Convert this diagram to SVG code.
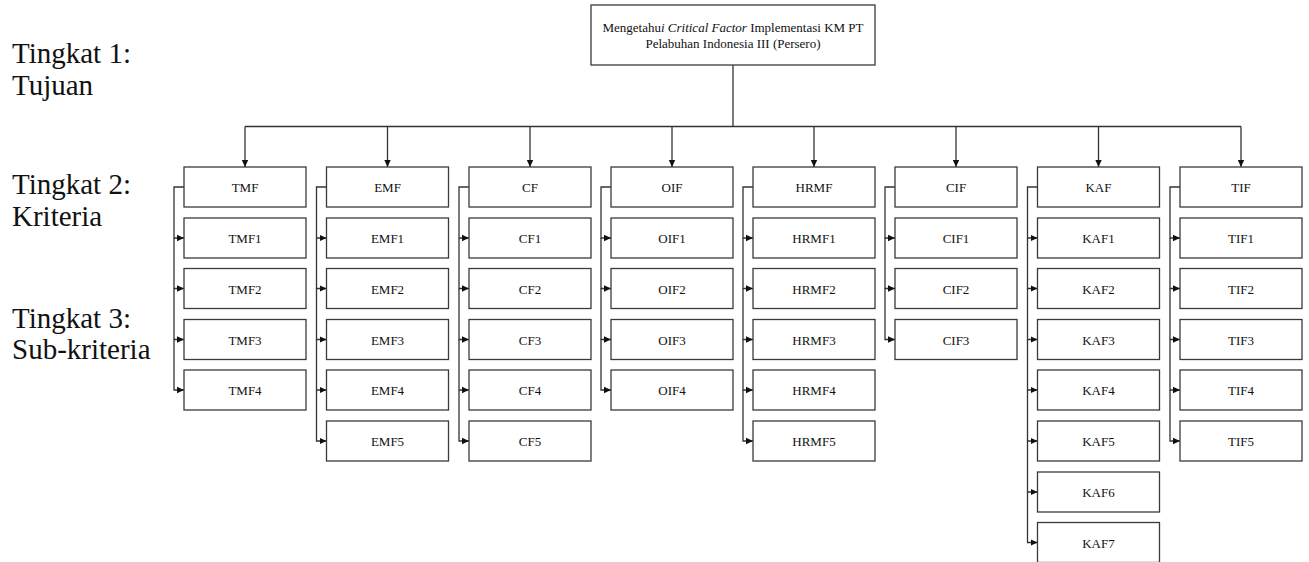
<svg xmlns="http://www.w3.org/2000/svg" width="1309" height="562" viewBox="0 0 1309 562">
  <style>
    .box { fill: #ffffff; stroke: #3a3a3a; stroke-width: 1.3; }
    .lbl { font-family: "Liberation Serif", "Times New Roman", serif; font-size: 13px; fill: #111; text-anchor: middle; }
    .lvl { font-family: "Liberation Serif", "Times New Roman", serif; font-size: 29px; fill: #111; }
    .wire { fill: none; stroke: #333; stroke-width: 1.3; }
    .arr { fill: none; stroke: #333; stroke-width: 1.3; marker-end: url(#head); }
  </style>
  <defs>
    <marker id="head" markerUnits="userSpaceOnUse" markerWidth="8" markerHeight="8" refX="7" refY="4" orient="auto">
      <path d="M0,0.8 L7,4 L0,7.2 Z" fill="#111"/>
    </marker>
  </defs>
  <rect width="1309" height="562" fill="#ffffff"/>

  <!-- level captions -->
  <g id="levels">
    <text class="lvl" x="12" y="62.5">Tingkat 1:</text>
    <text class="lvl" x="12" y="95">Tujuan</text>
    <text class="lvl" x="12" y="194">Tingkat 2:</text>
    <text class="lvl" x="12" y="226">Kriteria</text>
    <text class="lvl" x="12" y="327.5">Tingkat 3:</text>
    <text class="lvl" x="12" y="359">Sub-kriteria</text>
  </g>

  <!-- connectors -->
  <g id="connectors">
    <!-- goal to bus -->
    <path class="wire" d="M733,65 V126.5"/>
    <path class="wire" d="M245,126.5 H1241"/>
    <!-- bus to criteria -->
    <path class="arr" d="M245,126.5 V167"/>
    <path class="arr" d="M387.5,126.5 V167"/>
    <path class="arr" d="M530,126.5 V167"/>
    <path class="arr" d="M672,126.5 V167"/>
    <path class="arr" d="M814,126.5 V167"/>
    <path class="arr" d="M956,126.5 V167"/>
    <path class="arr" d="M1098.5,126.5 V167"/>
    <path class="arr" d="M1241,126.5 V167"/>

    <!-- TMF -->
    <path class="arr" d="M184,187 H174 V238 H184"/>
    <path class="arr" d="M174,238 V288.5 H184"/>
    <path class="arr" d="M174,288.5 V339.5 H184"/>
    <path class="arr" d="M174,339.5 V390 H184"/>
    <!-- EMF -->
    <path class="arr" d="M326.5,187 H316.5 V238 H326.5"/>
    <path class="arr" d="M316.5,238 V288.5 H326.5"/>
    <path class="arr" d="M316.5,288.5 V339.5 H326.5"/>
    <path class="arr" d="M316.5,339.5 V390 H326.5"/>
    <path class="arr" d="M316.5,390 V441 H326.5"/>
    <!-- CF -->
    <path class="arr" d="M469,187 H459 V238 H469"/>
    <path class="arr" d="M459,238 V288.5 H469"/>
    <path class="arr" d="M459,288.5 V339.5 H469"/>
    <path class="arr" d="M459,339.5 V390 H469"/>
    <path class="arr" d="M459,390 V441 H469"/>
    <!-- OIF -->
    <path class="arr" d="M611,187 H601 V238 H611"/>
    <path class="arr" d="M601,238 V288.5 H611"/>
    <path class="arr" d="M601,288.5 V339.5 H611"/>
    <path class="arr" d="M601,339.5 V390 H611"/>
    <!-- HRMF -->
    <path class="arr" d="M753,187 H743 V238 H753"/>
    <path class="arr" d="M743,238 V288.5 H753"/>
    <path class="arr" d="M743,288.5 V339.5 H753"/>
    <path class="arr" d="M743,339.5 V390 H753"/>
    <path class="arr" d="M743,390 V441 H753"/>
    <!-- CIF -->
    <path class="arr" d="M895,187 H885 V238 H895"/>
    <path class="arr" d="M885,238 V288.5 H895"/>
    <path class="arr" d="M885,288.5 V339.5 H895"/>
    <!-- KAF -->
    <path class="arr" d="M1037.5,187 H1027.5 V238 H1037.5"/>
    <path class="arr" d="M1027.5,238 V288.5 H1037.5"/>
    <path class="arr" d="M1027.5,288.5 V339.5 H1037.5"/>
    <path class="arr" d="M1027.5,339.5 V390 H1037.5"/>
    <path class="arr" d="M1027.5,390 V441 H1037.5"/>
    <path class="arr" d="M1027.5,441 V492 H1037.5"/>
    <path class="arr" d="M1027.5,492 V542.5 H1037.5"/>
    <!-- TIF -->
    <path class="arr" d="M1180,187 H1170 V238 H1180"/>
    <path class="arr" d="M1170,238 V288.5 H1180"/>
    <path class="arr" d="M1170,288.5 V339.5 H1180"/>
    <path class="arr" d="M1170,339.5 V390 H1180"/>
    <path class="arr" d="M1170,390 V441 H1180"/>
  </g>

  <!-- goal -->
  <g id="goal">
    <rect class="box" x="591" y="5" width="284" height="60"/>
    <text class="lbl" x="733" y="31.5">Mengetahu<tspan font-style="italic">i Critical Factor</tspan> Implementasi KM PT</text>
    <text class="lbl" x="733" y="47.5">Pelabuhan Indonesia III (Persero)</text>
  </g>

  <!-- TMF column -->
  <g id="TMF"><rect class="box" x="184" y="167" width="122" height="40"/><text class="lbl" x="245" y="192">TMF</text></g>
  <g id="TMF1"><rect class="box" x="184" y="218" width="122" height="40"/><text class="lbl" x="245" y="243">TMF1</text></g>
  <g id="TMF2"><rect class="box" x="184" y="268.5" width="122" height="40"/><text class="lbl" x="245" y="293.5">TMF2</text></g>
  <g id="TMF3"><rect class="box" x="184" y="319.5" width="122" height="40"/><text class="lbl" x="245" y="344.5">TMF3</text></g>
  <g id="TMF4"><rect class="box" x="184" y="370" width="122" height="40"/><text class="lbl" x="245" y="395">TMF4</text></g>

  <!-- EMF column -->
  <g id="EMF"><rect class="box" x="326.5" y="167" width="122" height="40"/><text class="lbl" x="387.5" y="192">EMF</text></g>
  <g id="EMF1"><rect class="box" x="326.5" y="218" width="122" height="40"/><text class="lbl" x="387.5" y="243">EMF1</text></g>
  <g id="EMF2"><rect class="box" x="326.5" y="268.5" width="122" height="40"/><text class="lbl" x="387.5" y="293.5">EMF2</text></g>
  <g id="EMF3"><rect class="box" x="326.5" y="319.5" width="122" height="40"/><text class="lbl" x="387.5" y="344.5">EMF3</text></g>
  <g id="EMF4"><rect class="box" x="326.5" y="370" width="122" height="40"/><text class="lbl" x="387.5" y="395">EMF4</text></g>
  <g id="EMF5"><rect class="box" x="326.5" y="421" width="122" height="40"/><text class="lbl" x="387.5" y="446">EMF5</text></g>

  <!-- CF column -->
  <g id="CF"><rect class="box" x="469" y="167" width="122" height="40"/><text class="lbl" x="530" y="192">CF</text></g>
  <g id="CF1"><rect class="box" x="469" y="218" width="122" height="40"/><text class="lbl" x="530" y="243">CF1</text></g>
  <g id="CF2"><rect class="box" x="469" y="268.5" width="122" height="40"/><text class="lbl" x="530" y="293.5">CF2</text></g>
  <g id="CF3"><rect class="box" x="469" y="319.5" width="122" height="40"/><text class="lbl" x="530" y="344.5">CF3</text></g>
  <g id="CF4"><rect class="box" x="469" y="370" width="122" height="40"/><text class="lbl" x="530" y="395">CF4</text></g>
  <g id="CF5"><rect class="box" x="469" y="421" width="122" height="40"/><text class="lbl" x="530" y="446">CF5</text></g>

  <!-- OIF column -->
  <g id="OIF"><rect class="box" x="611" y="167" width="122" height="40"/><text class="lbl" x="672" y="192">OIF</text></g>
  <g id="OIF1"><rect class="box" x="611" y="218" width="122" height="40"/><text class="lbl" x="672" y="243">OIF1</text></g>
  <g id="OIF2"><rect class="box" x="611" y="268.5" width="122" height="40"/><text class="lbl" x="672" y="293.5">OIF2</text></g>
  <g id="OIF3"><rect class="box" x="611" y="319.5" width="122" height="40"/><text class="lbl" x="672" y="344.5">OIF3</text></g>
  <g id="OIF4"><rect class="box" x="611" y="370" width="122" height="40"/><text class="lbl" x="672" y="395">OIF4</text></g>

  <!-- HRMF column -->
  <g id="HRMF"><rect class="box" x="753" y="167" width="122" height="40"/><text class="lbl" x="814" y="192">HRMF</text></g>
  <g id="HRMF1"><rect class="box" x="753" y="218" width="122" height="40"/><text class="lbl" x="814" y="243">HRMF1</text></g>
  <g id="HRMF2"><rect class="box" x="753" y="268.5" width="122" height="40"/><text class="lbl" x="814" y="293.5">HRMF2</text></g>
  <g id="HRMF3"><rect class="box" x="753" y="319.5" width="122" height="40"/><text class="lbl" x="814" y="344.5">HRMF3</text></g>
  <g id="HRMF4"><rect class="box" x="753" y="370" width="122" height="40"/><text class="lbl" x="814" y="395">HRMF4</text></g>
  <g id="HRMF5"><rect class="box" x="753" y="421" width="122" height="40"/><text class="lbl" x="814" y="446">HRMF5</text></g>

  <!-- CIF column -->
  <g id="CIF"><rect class="box" x="895" y="167" width="122" height="40"/><text class="lbl" x="956" y="192">CIF</text></g>
  <g id="CIF1"><rect class="box" x="895" y="218" width="122" height="40"/><text class="lbl" x="956" y="243">CIF1</text></g>
  <g id="CIF2"><rect class="box" x="895" y="268.5" width="122" height="40"/><text class="lbl" x="956" y="293.5">CIF2</text></g>
  <g id="CIF3"><rect class="box" x="895" y="319.5" width="122" height="40"/><text class="lbl" x="956" y="344.5">CIF3</text></g>

  <!-- KAF column -->
  <g id="KAF"><rect class="box" x="1037.5" y="167" width="122" height="40"/><text class="lbl" x="1098.5" y="192">KAF</text></g>
  <g id="KAF1"><rect class="box" x="1037.5" y="218" width="122" height="40"/><text class="lbl" x="1098.5" y="243">KAF1</text></g>
  <g id="KAF2"><rect class="box" x="1037.5" y="268.5" width="122" height="40"/><text class="lbl" x="1098.5" y="293.5">KAF2</text></g>
  <g id="KAF3"><rect class="box" x="1037.5" y="319.5" width="122" height="40"/><text class="lbl" x="1098.5" y="344.5">KAF3</text></g>
  <g id="KAF4"><rect class="box" x="1037.5" y="370" width="122" height="40"/><text class="lbl" x="1098.5" y="395">KAF4</text></g>
  <g id="KAF5"><rect class="box" x="1037.5" y="421" width="122" height="40"/><text class="lbl" x="1098.5" y="446">KAF5</text></g>
  <g id="KAF6"><rect class="box" x="1037.5" y="472" width="122" height="40"/><text class="lbl" x="1098.5" y="497">KAF6</text></g>
  <g id="KAF7"><rect class="box" x="1037.5" y="522.5" width="122" height="40"/><text class="lbl" x="1098.5" y="547.5">KAF7</text></g>

  <!-- TIF column -->
  <g id="TIF"><rect class="box" x="1180" y="167" width="122" height="40"/><text class="lbl" x="1241" y="192">TIF</text></g>
  <g id="TIF1"><rect class="box" x="1180" y="218" width="122" height="40"/><text class="lbl" x="1241" y="243">TIF1</text></g>
  <g id="TIF2"><rect class="box" x="1180" y="268.5" width="122" height="40"/><text class="lbl" x="1241" y="293.5">TIF2</text></g>
  <g id="TIF3"><rect class="box" x="1180" y="319.5" width="122" height="40"/><text class="lbl" x="1241" y="344.5">TIF3</text></g>
  <g id="TIF4"><rect class="box" x="1180" y="370" width="122" height="40"/><text class="lbl" x="1241" y="395">TIF4</text></g>
  <g id="TIF5"><rect class="box" x="1180" y="421" width="122" height="40"/><text class="lbl" x="1241" y="446">TIF5</text></g>
</svg>
